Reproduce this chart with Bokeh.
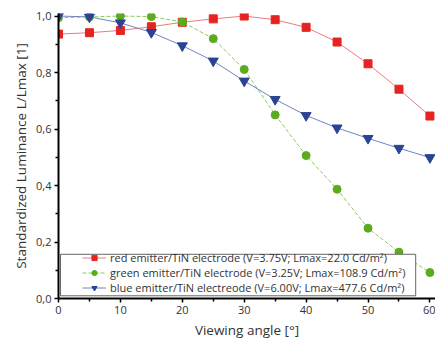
from bokeh.plotting import figure
from bokeh.models import Range1d, CustomJSTickFormatter, FixedTicker, Legend, LegendItem, BoxAnnotation
from bokeh.embed import file_html
from bokeh.resources import INLINE

angles = [0, 5, 10, 15, 20, 25, 30, 35, 40, 45, 50, 55, 60]
red = [0.936, 0.941, 0.949, 0.962, 0.978, 0.990, 1.000, 0.987, 0.960, 0.908, 0.831, 0.741, 0.646]
green = [0.994, 0.997, 1.000, 0.998, 0.979, 0.920, 0.811, 0.650, 0.506, 0.387, 0.249, 0.164, 0.092]
blue = [1.000, 0.997, 0.976, 0.942, 0.895, 0.841, 0.770, 0.705, 0.648, 0.604, 0.567, 0.532, 0.499]
labels = [
    "red emitter/TiN electrode (V=3.75V; Lmax=22.0 Cd/m²)",
    "green emitter/TiN electrode (V=3.25V; Lmax=108.9 Cd/m²)",
    "blue emitter/TiN electreode (V=6.00V; Lmax=477.6 Cd/m²)",
]
x_ticks = [0, 10, 20, 30, 40, 50, 60]
x_minor = [5, 15, 25, 35, 45, 55]
y_ticks = [0.0, 0.2, 0.4, 0.6, 0.8, 1.0]
y_minor = [0.1, 0.3, 0.5, 0.7, 0.9]

FONT = "Open Sans"
TXT = "#333333"

p = figure(width=435, height=345, output_backend="svg", toolbar_location=None,
           x_range=Range1d(0, 60.9), y_range=Range1d(0, 1.009),
           min_border_left=58, min_border_right=0, min_border_top=13, min_border_bottom=47)
p.outline_line_color = None
p.grid.visible = False
p.background_fill_color = "white"

series = [
    (red, "#e52421", "#f07a7a", "solid", "square", 8),
    (green, "#5aab1e", "#8ccb5e", "4 2", "circle", 8),
    (blue, "#2b4393", "#7283c4", "solid", "inverted_triangle", 10),
]
items = []
for vals, mc, lc, dash, marker, size in series:
    l = p.line(angles, vals, line_color=lc, line_width=1, line_dash=dash)
    s = p.scatter(angles, vals, marker=marker, size=size, fill_color=mc, line_color=mc)
    items.append((l, s))

# legend frame
box = BoxAnnotation(left=0.32, right=57.7, bottom=0.0096, top=0.1565,
                    fill_color="white", fill_alpha=1.0,
                    line_color="#666666", line_width=1, line_alpha=1.0)
p.add_layout(box)

legend = Legend(items=[LegendItem(label=lab, renderers=[l, s]) for lab, (l, s) in zip(labels, items)],
                location=(24, 3))
legend.label_text_font = FONT
legend.label_text_font_size = "11px"
legend.label_text_color = TXT
legend.label_height = 13
legend.glyph_height = 13
legend.glyph_width = 24
legend.spacing = -2
legend.padding = 0
legend.margin = 0
legend.label_standoff = 4
legend.border_line_color = None
legend.background_fill_alpha = 0.0
p.add_layout(legend, "center")

fmt = CustomJSTickFormatter(code="return tick.toFixed(1).replace('.', ',');")
p.yaxis.formatter = fmt
p.yaxis.ticker = FixedTicker(ticks=y_ticks, minor_ticks=y_minor)
p.xaxis.ticker = FixedTicker(ticks=x_ticks, minor_ticks=x_minor)

for ax in (p.xaxis, p.yaxis):
    ax.axis_line_color = "black"
    ax.axis_line_width = 2
    ax.major_tick_line_color = "black"
    ax.minor_tick_line_color = "black"
    ax.major_tick_line_width = 1.5
    ax.minor_tick_line_width = 1.5
    ax.major_tick_out = 4
    ax.major_tick_in = 0
    ax.minor_tick_out = 3
    ax.minor_tick_in = 0
    ax.major_label_text_font = FONT
    ax.major_label_text_font_size = "11px"
    ax.major_label_text_color = TXT
    ax.axis_label_text_font = FONT
    ax.axis_label_text_font_size = "13.5px"
    ax.axis_label_text_font_style = "normal"
    ax.axis_label_text_color = TXT

p.xaxis.axis_label = "Viewing angle [°]"
p.yaxis.axis_label = "Standardized Luminance L/Lmax [1]"
p.xaxis.major_label_standoff = 3
p.xaxis.axis_label_standoff = 4
p.yaxis.major_label_standoff = 3
p.yaxis.axis_label_standoff = 3

open("out.html", "w").write(file_html(p, INLINE))
